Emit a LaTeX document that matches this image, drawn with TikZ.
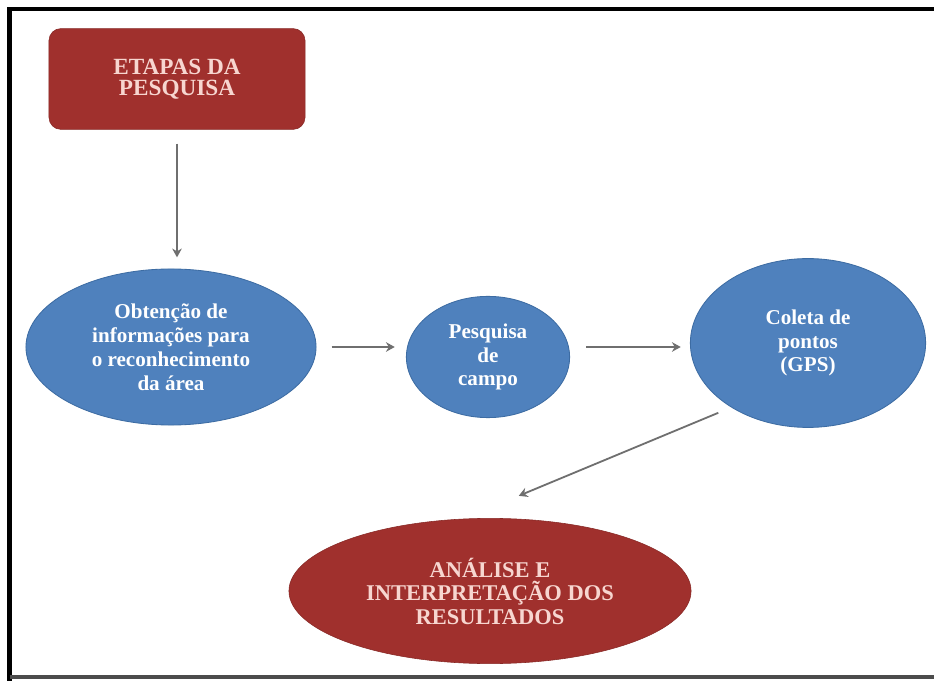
\documentclass[tikz,border=0pt]{standalone}
\usepackage{fontspec}
\setmainfont{Liberation Serif}
\usetikzlibrary{shapes.geometric,arrows.meta}
\definecolor{vermelho}{HTML}{A0302D}
\definecolor{rosa}{HTML}{F7D6D0}
\definecolor{azul}{HTML}{4F81BD}
\definecolor{azulborda}{HTML}{3D6CA3}
\definecolor{cinza}{HTML}{6F6F6F}
\tikzset{
  caixa/.style={rectangle, rounded corners=0.3cm, fill=vermelho, draw=vermelho!85!black,
    text=rosa, align=center, font=\bfseries\fontsize{16.5}{15}\selectfont,
    minimum width=6.4cm, minimum height=2.52cm},
  elipseazul/.style={ellipse, fill=azul, draw=azulborda, line width=0.6pt, text=white,
    align=center, inner sep=0pt, font=\bfseries\fontsize{15}{17}\selectfont},
  elipsevermelha/.style={ellipse, fill=vermelho, draw=vermelho!85!black, text=rosa,
    align=center, inner sep=0pt, font=\bfseries\fontsize{16}{16.7}\selectfont},
  seta/.style={draw=cinza, line width=0.45mm, -{Stealth[length=2.2mm,width=2.4mm]}}
}
\begin{document}
\begin{tikzpicture}[x=0.025cm, y=-0.025cm]
  \useasboundingbox (0,0) rectangle (934,681);
  \fill[white] (0,0) rectangle (934,681);
  \draw[line width=1mm] (9.5,681) -- (9.5,9) -- (934,9); %枠
  \draw[line width=0.8mm, gray!60!black] (9.5,677) -- (934,677); %下の枠

  \node[caixa] (etapas) at (177,79) {ETAPAS DA\\PESQUISA}; %上の箱
  \node[elipseazul, minimum width=7.25cm, minimum height=3.9cm] (obt) at (171,347)
    {Obtenção de\\informações para\\o reconhecimento\\da área}; %左の楕円
  \node[elipseazul, minimum width=4.08cm, minimum height=3.03cm] (campo) at (488,357)
    {Pesquisa\\de\\campo}; %中の円
  \node[elipseazul, minimum width=5.88cm, minimum height=4.22cm] (gps) at (808,343)
    {Coleta de\\pontos\\(GPS)}; %右の楕円
  \node[elipsevermelha, minimum width=10.05cm, minimum height=3.63cm] (analise) at (490,591)
    {ANÁLISE E\\INTERPRETAÇÃO DOS\\RESULTADOS}; %下の楕円

  \draw[seta, shorten <=0.35cm, shorten >=0.28cm] (etapas.south) -- (etapas.south |- obt.north); %下向きの矢印
  \draw[seta, shorten <=0.38cm, shorten >=0.28cm] (obt.east) -- (obt.east -| campo.west); %左の矢印
  \draw[seta, shorten <=0.4cm, shorten >=0.23cm] (campo.east |- obt.east) -- (obt.east -| gps.west); %右の矢印
  \draw[seta, shorten <=0.35cm, shorten >=1.49cm] (gps.220) -- (analise.110); %斜めの矢印
\end{tikzpicture}
\end{document}
